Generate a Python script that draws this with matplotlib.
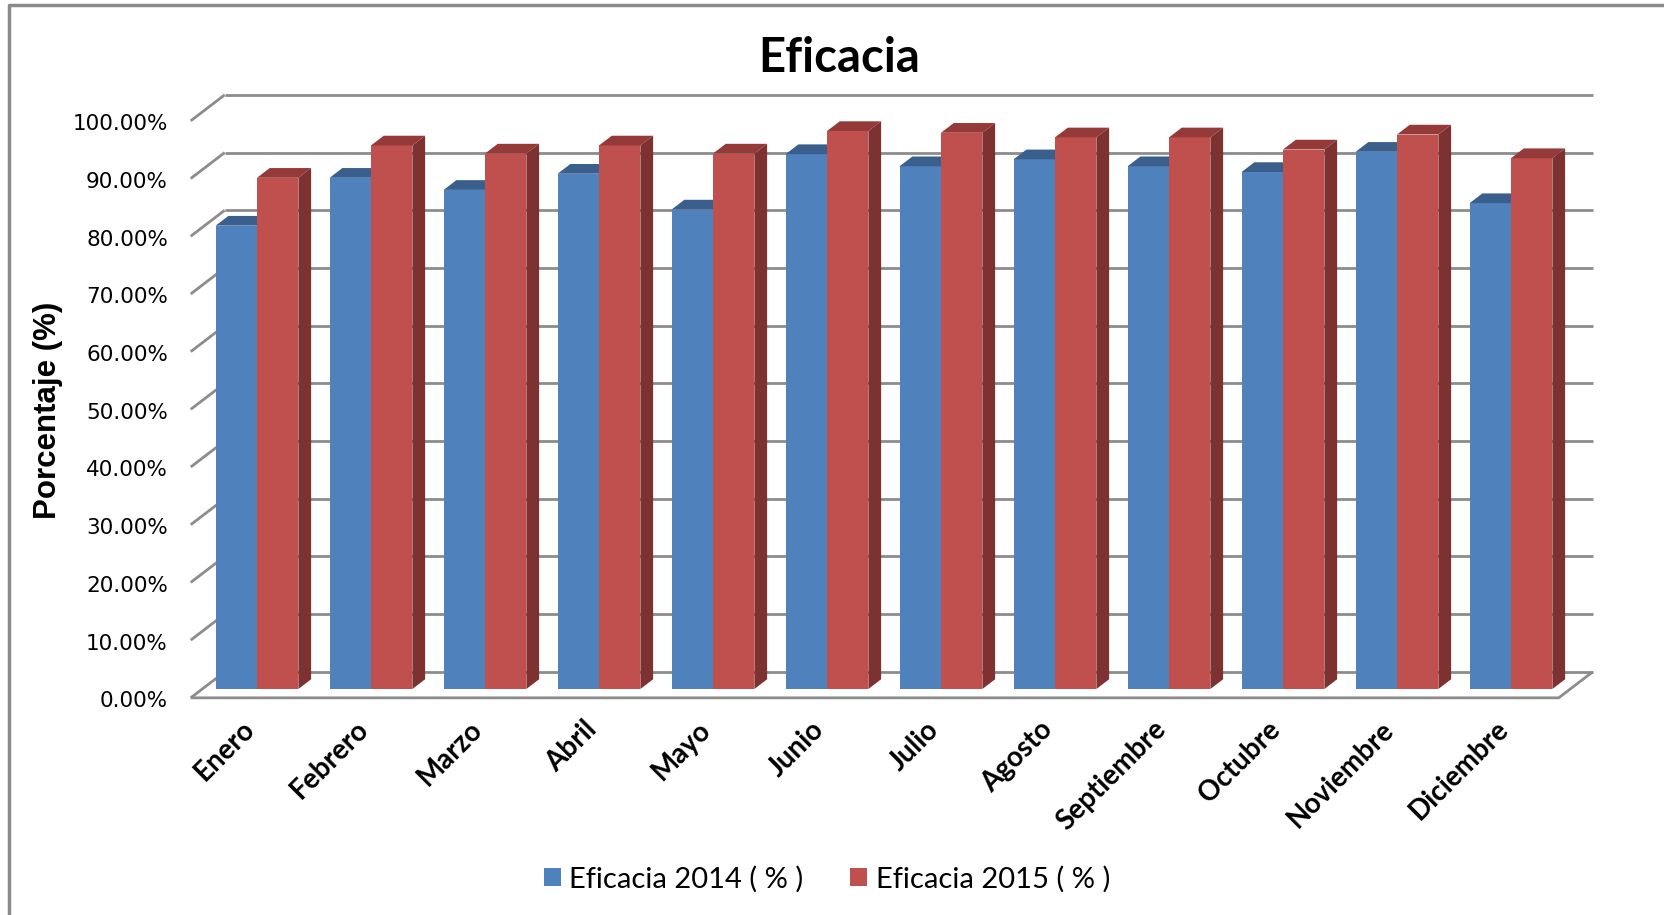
import matplotlib
matplotlib.use('Agg')
import matplotlib.pyplot as plt
from matplotlib.patches import Polygon, Patch
from matplotlib.lines import Line2D
import numpy as np

# monthly efficacy (%) for both years
meses = ['Enero', 'Febrero', 'Marzo', 'Abril', 'Mayo', 'Junio', 'Julio',
         'Agosto', 'Septiembre', 'Octubre', 'Noviembre', 'Diciembre']
eficacia_2014 = [80.3, 88.6, 86.5, 89.3, 83.1, 92.7, 90.6, 91.8, 90.6, 89.6, 93.1, 84.2]
eficacia_2015 = [88.6, 94.2, 92.8, 94.2, 92.8, 96.7, 96.4, 95.6, 95.6, 93.5, 96.1, 92.0]
ticks = np.arange(0, 101, 10)

# colours: front / top / side faces
azul = ('#4f81bd', '#3a5f8c', '#2f4d73')
rojo = ('#c0504d', '#953a38', '#7d3131')

W, H = 1665, 915
fig = plt.figure(figsize=(W / 100, H / 100), dpi=100)

# pixel mapping of the bar plane: x_px = 257 + 114*x, y_px = 689 - 5.77*y
x0, x1 = -0.8, 11.9
y0, y1 = -3.0, 104.0
px = lambda x: 257 + 114 * x
py = lambda y: 689 - 5.77 * y
ax = fig.add_axes([px(x0) / W, 1 - py(y0) / H, (px(x1) - px(x0)) / W, (py(y0) - py(y1)) / H])
ax.set_xlim(x0, x1)
ax.set_ylim(y0, y1)
ax.axis('off')

# oblique depth offsets (category units, % units)
full_dx, full_dy = 0.298, 4.5
front = (-0.34 * full_dx, -0.34 * full_dy)
back = (0.66 * full_dx, 0.66 * full_dy)
bar_d = (0.375 * full_dx, 0.375 * full_dy)
left, right = -0.48, 11.52
grid_kw = dict(color='#8c8c8c', lw=2.0, solid_capstyle='butt', zorder=1)

# back wall and left wall gridlines
for v in ticks:
    ax.plot([left + back[0], right + back[0]], [v + back[1]] * 2, **grid_kw)
    ax.plot([left + front[0], left + back[0]], [v + front[1], v + back[1]], **grid_kw)
    ax.text(left + front[0] - 0.2, v + front[1] - 0.6, f'{v:.2f}%', ha='right', va='center',
            fontsize=15.5, family='DejaVu Sans', color='#000000')

# floor front and right edges
ax.plot([left + front[0], right + front[0], right + back[0]],
        [front[1], front[1], back[1]], **grid_kw)

bw = 0.363
z = 3
for i, (a, b) in enumerate(zip(eficacia_2014, eficacia_2015)):
    for xs, v, cols in [(i - bw, a, azul), (i, b, rojo)]:
        xe = xs + bw
        ax.bar(xs, v, width=bw, align='edge', color=cols[0], linewidth=0, zorder=z)
        top = [(xs, v), (xe, v), (xe + bar_d[0], v + bar_d[1]), (xs + bar_d[0], v + bar_d[1])]
        side = [(xe, 0), (xe, v), (xe + bar_d[0], v + bar_d[1]), (xe + bar_d[0], bar_d[1])]
        ax.add_patch(Polygon(top, closed=True, fc=cols[1], ec='none', zorder=z))
        ax.add_patch(Polygon(side, closed=True, fc=cols[2], ec='none', zorder=z))
        z += 1
    ax.text(i - 0.14, -4.7, meses[i], rotation=45, rotation_mode='anchor', ha='right', va='top',
            fontsize=20, fontweight='bold', family='Lato')

fig.text(839 / W, 1 - 58 / H, 'Eficacia', ha='center', va='center',
         fontsize=34, fontweight='bold', family='Lato')
fig.text(48 / W, 1 - 410 / H, 'Porcentaje (%)', rotation=90, ha='center', va='center',
         fontsize=22.5, fontweight='bold', family='Liberation Sans')

handles = [Patch(facecolor=azul[0], label='Eficacia 2014 ( % )'),
           Patch(facecolor=rojo[0], label='Eficacia 2015 ( % )')]
fig.legend(handles=handles, loc='center', bbox_to_anchor=(827 / W, 1 - 879 / H), ncol=2,
           frameon=False, prop={'family': 'Lato', 'size': 21},
           handlelength=0.58, handleheight=0.58, handletextpad=0.3, columnspacing=1.6)

# chart area border (top and left edges)
fig.add_artist(Line2D([9 / W, 9 / W, 1], [0, 1 - 4.5 / H, 1 - 4.5 / H],
                      transform=fig.transFigure, color='#8a8a8a', lw=2.5))

fig.savefig('out.png', dpi=100)
